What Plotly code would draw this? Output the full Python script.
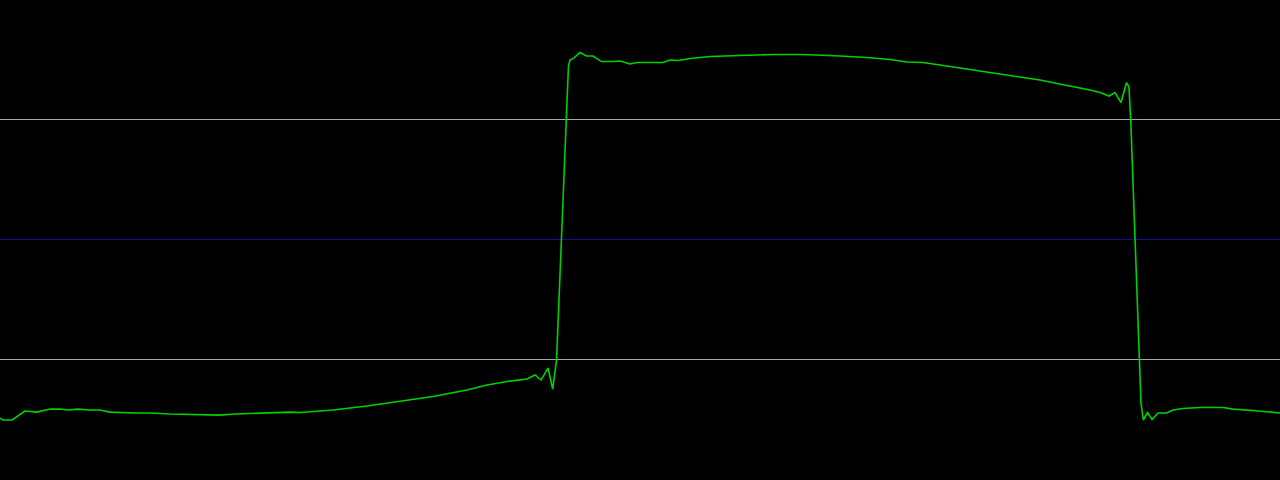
import plotly.graph_objects as go

# Time (ms) and voltage (V)
time_ms = [0.000, 0.023, 0.094, 0.195, 0.289, 0.391, 0.469, 0.531, 0.609, 0.703,
           0.781, 0.859, 1.055, 1.172, 1.328, 1.563, 1.719, 1.836, 1.992, 2.109,
           2.266, 2.344, 2.602, 2.867, 3.125, 3.383, 3.648, 3.805, 3.961, 4.117,
           4.180, 4.227, 4.281, 4.318, 4.348, 4.432, 4.441, 4.453, 4.484, 4.531,
           4.582, 4.633, 4.699, 4.789, 4.844, 4.922, 4.977, 5.078, 5.180, 5.234,
           5.297, 5.391, 5.547, 5.781, 6.039, 6.273, 6.383, 6.563, 6.773, 6.953,
           7.086, 7.211, 7.344, 7.477, 7.602, 7.734, 7.867, 7.992, 8.125, 8.258,
           8.383, 8.516, 8.594, 8.664, 8.711, 8.758, 8.801, 8.820, 8.834, 8.906,
           8.914, 8.932, 8.965, 9.000, 9.047, 9.113, 9.164, 9.242, 9.375, 9.555,
           9.633, 9.789, 10.000]
voltage = [-1.488, -1.504, -1.504, -1.429, -1.438, -1.413, -1.413, -1.421, -1.413, -1.421,
           -1.421, -1.438, -1.446, -1.446, -1.454, -1.463, -1.463, -1.454, -1.446, -1.446,
           -1.438, -1.442, -1.421, -1.388, -1.350, -1.308, -1.254, -1.213, -1.183, -1.163,
           -1.129, -1.171, -1.071, -1.246, -1.004, 1.246, 1.446, 1.496, 1.513, 1.558,
           1.529, 1.529, 1.483, 1.483, 1.488, 1.463, 1.475, 1.475, 1.475, 1.496,
           1.492, 1.508, 1.525, 1.533, 1.542, 1.542, 1.538, 1.529, 1.517, 1.500,
           1.479, 1.475, 1.454, 1.433, 1.413, 1.396, 1.375, 1.350, 1.329, 1.300,
           1.275, 1.246, 1.225, 1.196, 1.225, 1.142, 1.308, 1.271, 0.996, -1.171,
           -1.363, -1.504, -1.442, -1.500, -1.446, -1.446, -1.421, -1.408, -1.400, -1.400,
           -1.413, -1.425, -1.446]

# Reference levels (V) and their colours
level_values = [1.0, 0.0, -1.0]
level_colors = ["#a8a8a8", "#10109c", "#a8a8a8"]

fig = go.Figure()
fig.add_trace(go.Scatter(x=time_ms, y=voltage, mode="lines",
                         line=dict(color="#00d200", width=1.6),
                         hoverinfo="skip", showlegend=False))

for lv, lc in zip(level_values, level_colors):
    fig.add_shape(type="line", xref="paper", x0=0, x1=1, yref="y", y0=lv, y1=lv,
                  line=dict(color=lc, width=1), layer="below")

fig.update_layout(
    width=1280, height=480,
    margin=dict(l=0, r=0, t=0, b=0),
    paper_bgcolor="black", plot_bgcolor="black",
    xaxis=dict(range=[0, 10], visible=False, showgrid=False, zeroline=False),
    yaxis=dict(range=[-2.004, 1.996], visible=False, showgrid=False, zeroline=False),
)

fig.write_html(
    "out.html",
    config={"displayModeBar": False},
    post_script="document.body.style.margin='0';document.body.style.padding='0';"
                "document.body.style.background='black';document.body.style.overflow='hidden';",
)
